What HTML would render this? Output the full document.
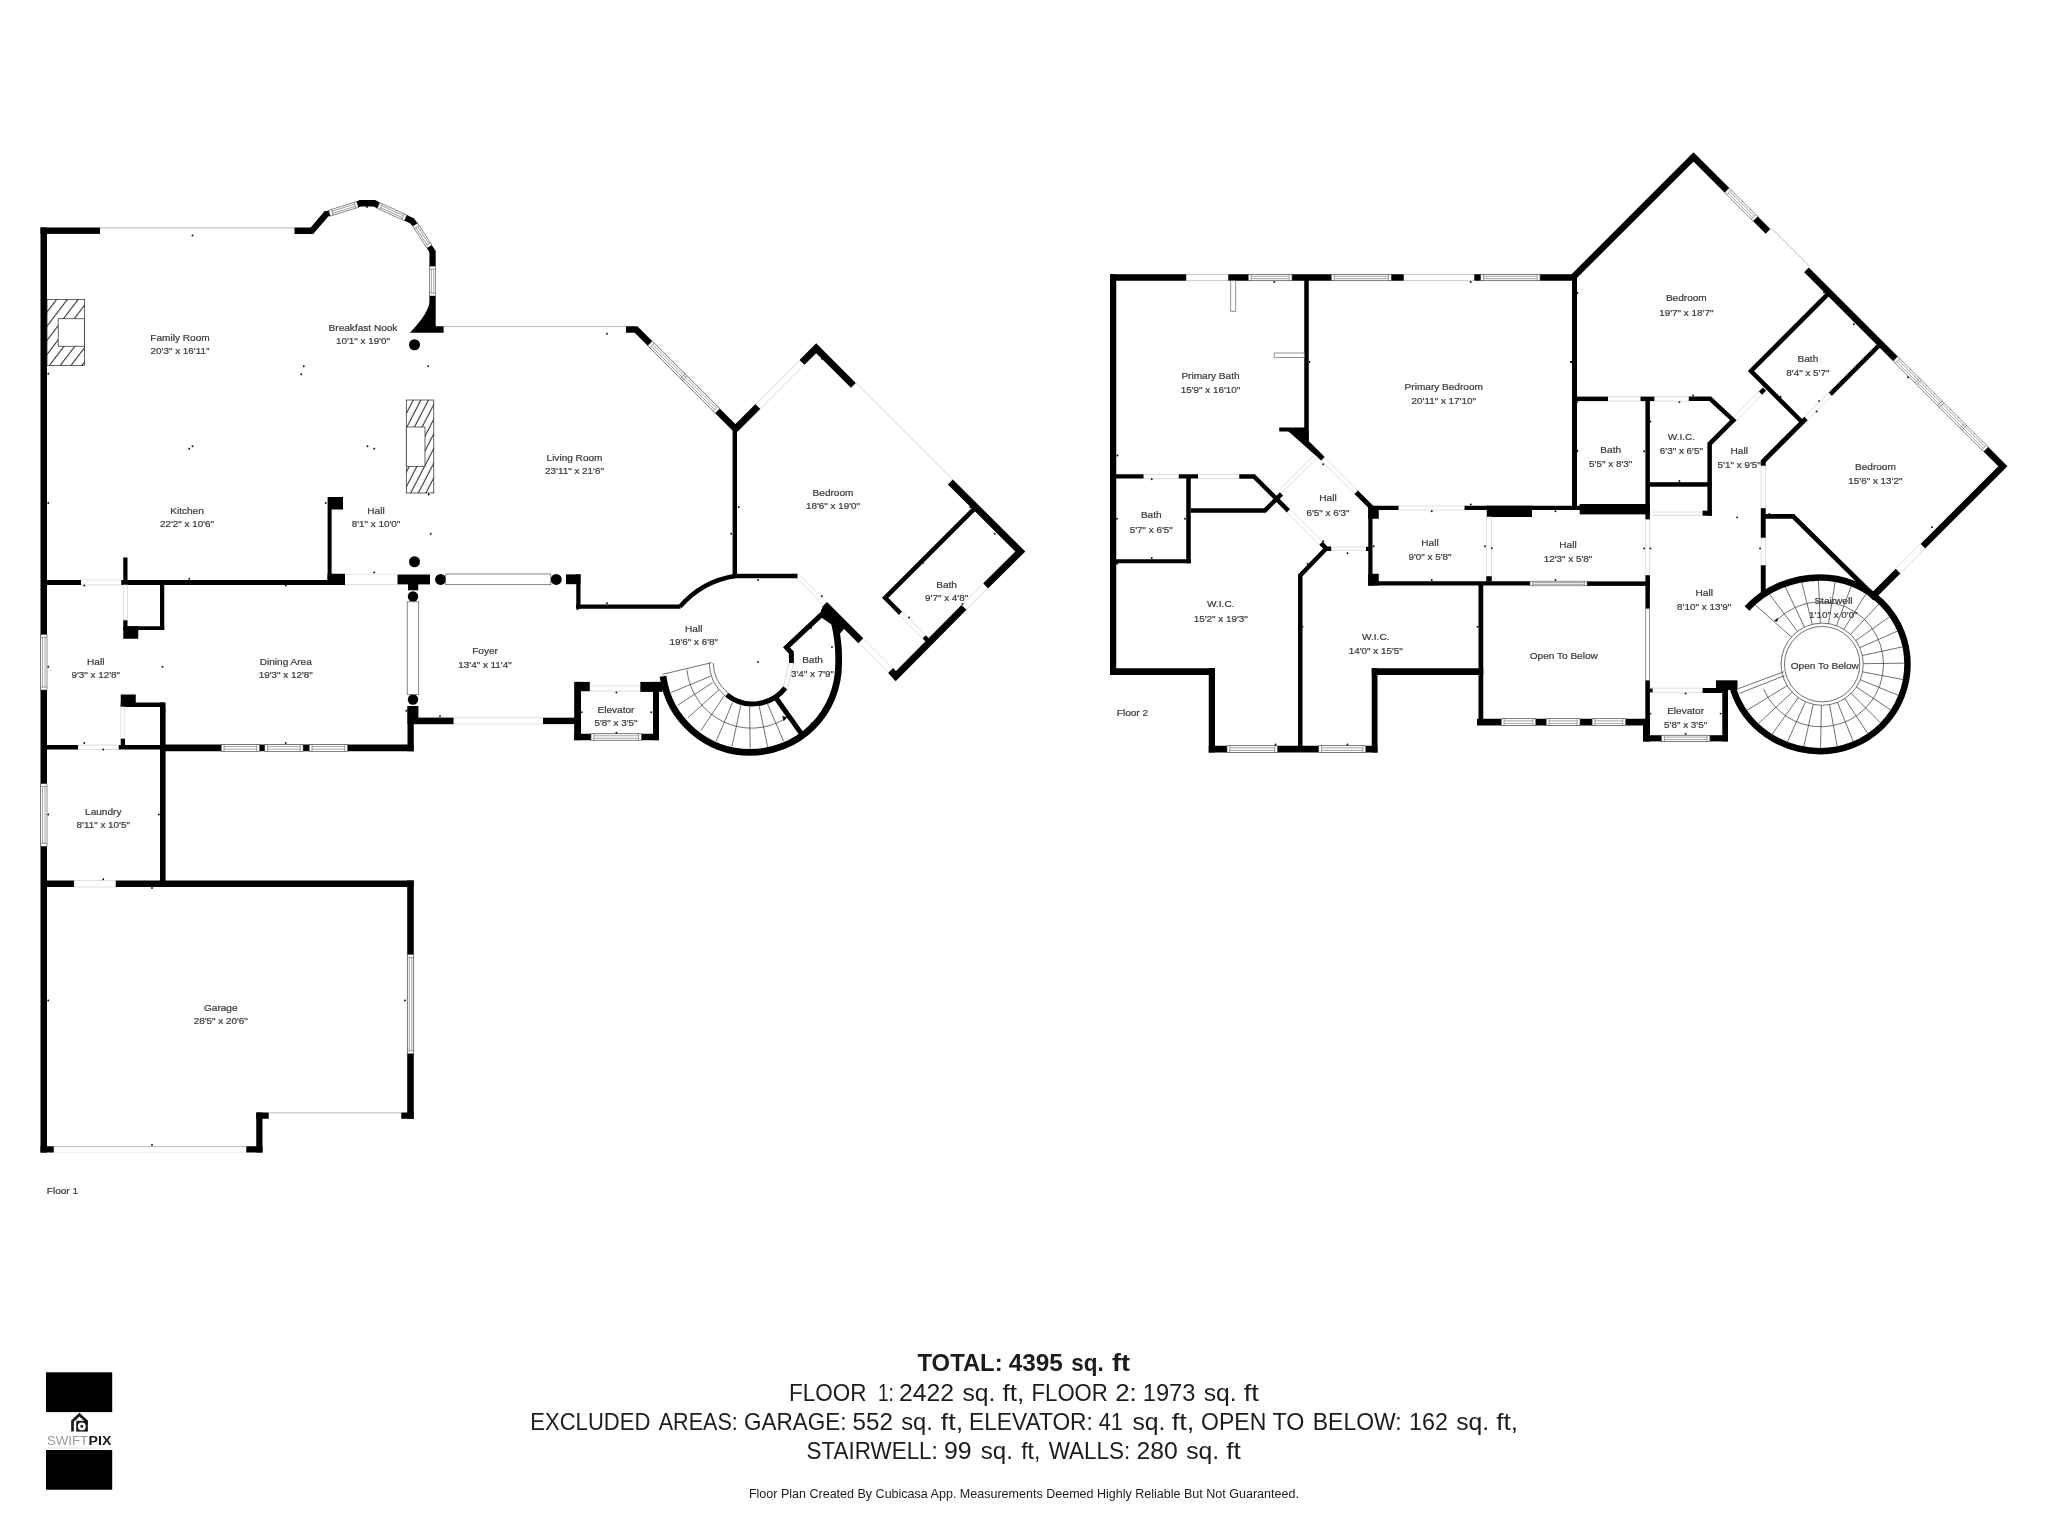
<!DOCTYPE html>
<html><head><meta charset="utf-8"><title>Floor Plan</title>
<style>
html,body{margin:0;padding:0;background:#fff;}
body{width:2048px;height:1536px;overflow:hidden;}
svg{display:block;filter:grayscale(1);}
.lab text{font-family:"Liberation Sans",sans-serif;font-size:9.6px;fill:#3c3c3c;stroke:#3a3a3a;stroke-width:0.22px;}
.bt text{font-family:"Liberation Sans",sans-serif;fill:#1c1c1c;}
.logo text{font-family:"Liberation Sans",sans-serif;}
</style></head><body>
<svg width="2048" height="1536" viewBox="0 0 2048 1536">
<defs><pattern id="hat" width="8.58" height="8.58" patternUnits="userSpaceOnUse" patternTransform="rotate(37.3)"><rect width="8.58" height="8.58" fill="#fff"/><line x1="3.37" y1="0" x2="3.37" y2="8.58" stroke="#2a2a2a" stroke-width="1.05"/></pattern>
<pattern id="hat2" width="6.75" height="6.75" patternUnits="userSpaceOnUse" patternTransform="rotate(27.4)"><rect width="6.75" height="6.75" fill="#fff"/><line x1="4.25" y1="0" x2="4.25" y2="6.75" stroke="#2a2a2a" stroke-width="1.05"/></pattern></defs>
<rect width="2048" height="1536" fill="#fff"/>
<g class="plan">
<rect x="40.5" y="227.5" width="6.5" height="925" fill="#000"/>
<g transform="translate(43.75,634.5) rotate(90)"><rect x="0" y="-3.25" width="55.5" height="6.5" fill="#fff" stroke="#4a4a4a" stroke-width="0.6"/><path d="M2.8,-3.25 V3.25 M52.7,-3.25 V3.25 M2.8,-1.24 H52.7 M2.8,1.24 H52.7" stroke="#4a4a4a" stroke-width="0.5" fill="none"/></g>
<g transform="translate(43.75,783.75) rotate(90)"><rect x="0" y="-3.25" width="62.5" height="6.5" fill="#fff" stroke="#4a4a4a" stroke-width="0.6"/><path d="M2.8,-3.25 V3.25 M59.7,-3.25 V3.25 M2.8,-1.24 H59.7 M2.8,1.24 H59.7" stroke="#4a4a4a" stroke-width="0.5" fill="none"/></g>
<rect x="40.5" y="227.5" width="59.5" height="6.4" fill="#000"/>
<line x1="100" y1="227.9" x2="294.5" y2="227.9" stroke="#b4b4b4" stroke-width="0.9"/>
<polygon points="294.5,227.6 310.7,227.6 324.4,211.3 328.8,210.5 330.3,215.9 328.3,216.6 313.2,233.9 294.5,233.9" fill="#000"/>
<g transform="translate(329.55,213.2) rotate(-17.32)"><rect x="0" y="-3" width="29.38" height="6" fill="#fff" stroke="#4a4a4a" stroke-width="0.6"/><path d="M2.8,-3 V3 M26.58,-3 V3 M2.8,-1.14 H26.58 M2.8,1.14 H26.58" stroke="#4a4a4a" stroke-width="0.5" fill="none"/></g>
<polygon points="356.6,201.5 359.6,200.1 375.2,200.1 379.6,202.5 377.6,208.6 373.7,206.6 361,206.6 358.6,207.4" fill="#000"/>
<g transform="translate(378.6,205.55) rotate(24.41)"><rect x="0" y="-3.1" width="29.76" height="6.2" fill="#fff" stroke="#4a4a4a" stroke-width="0.6"/><path d="M2.8,-3.1 V3.1 M26.96,-3.1 V3.1 M2.8,-1.18 H26.96 M2.8,1.18 H26.96" stroke="#4a4a4a" stroke-width="0.5" fill="none"/></g>
<polygon points="406.9,214.9 413.8,218.3 417.7,223.2 412.8,226.3 409.9,223.2 404.5,220.8" fill="#000"/>
<g transform="translate(415.25,224.75) rotate(57.13)"><rect x="0" y="-2.9" width="26.07" height="5.8" fill="#fff" stroke="#4a4a4a" stroke-width="0.6"/><path d="M2.8,-2.9 V2.9 M23.27,-2.9 V2.9 M2.8,-1.1 H23.27 M2.8,1.1 H23.27" stroke="#4a4a4a" stroke-width="0.5" fill="none"/></g>
<polygon points="431.8,245.2 435.7,251 435.7,266.2 429.4,266.2 429.4,252.5 427,248.1" fill="#000"/>
<g transform="translate(432.55,266.2) rotate(90)"><rect x="0" y="-3.15" width="29.8" height="6.3" fill="#fff" stroke="#4a4a4a" stroke-width="0.6"/><path d="M2.8,-3.15 V3.15 M27,-3.15 V3.15 M2.8,-1.2 H27 M2.8,1.2 H27" stroke="#4a4a4a" stroke-width="0.5" fill="none"/></g>
<path d="M435.7,296 L435.7,326.2 L443.6,326.2 L443.6,332.8 L409.9,332.8 Q423,319 426.5,311 Q429.4,306 429.4,302 L429.4,296 Z" fill="#000"/>
<line x1="443.6" y1="326.5" x2="626" y2="326.5" stroke="#b4b4b4" stroke-width="0.9"/>
<polyline points="626,329.4 636,329.4 735,428.4" fill="none" stroke="#000" stroke-width="6.5" stroke-linejoin="miter" stroke-linecap="butt" stroke-miterlimit="10"/>
<g transform="translate(650,343.4) rotate(45)"><rect x="0" y="-3.25" width="95.46" height="6.5" fill="#fff" stroke="#4a4a4a" stroke-width="0.6"/><path d="M2.8,-3.25 V3.25 M92.66,-3.25 V3.25 M2.8,-1.24 H92.66 M2.8,1.24 H92.66" stroke="#4a4a4a" stroke-width="0.5" fill="none"/><path d="M46.43,-3.25 V3.25 M49.03,-3.25 V3.25" stroke="#4a4a4a" stroke-width="0.5" fill="none"/></g>
<rect x="732.6" y="428" width="4.4" height="148" fill="#000"/>
<polyline points="735,429.4 758,406.4" fill="none" stroke="#000" stroke-width="7" stroke-linejoin="miter" stroke-linecap="butt" stroke-miterlimit="10"/>
<g transform="translate(758,406.4) rotate(-45)"><rect x="0" y="-3.25" width="62.23" height="6.5" fill="#fff"/><path d="M0,-3.25 H62.23 M0,3.25 H62.23" stroke="#d6d6d6" stroke-width="0.8" fill="none"/></g>
<polyline points="802,362.4 816.2,348.2 853.4,385.4" fill="none" stroke="#000" stroke-width="7" stroke-linejoin="miter" stroke-linecap="butt" stroke-miterlimit="10"/>
<line x1="855.3" y1="382.3" x2="952.6" y2="479.6" stroke="#c6c6c6" stroke-width="0.9"/>
<polyline points="950.3,481.9 1020.3,551.5 985.5,585.9" fill="none" stroke="#000" stroke-width="7" stroke-linejoin="miter" stroke-linecap="butt" stroke-miterlimit="10"/>
<g transform="translate(985.5,585.9) rotate(135)"><rect x="0" y="-3.25" width="30.41" height="6.5" fill="#fff"/><path d="M0,-3.25 H30.41 M0,3.25 H30.41" stroke="#d6d6d6" stroke-width="0.8" fill="none"/></g>
<polyline points="964,607.4 895.75,676.1 890.5,670.4" fill="none" stroke="#000" stroke-width="7" stroke-linejoin="miter" stroke-linecap="butt" stroke-miterlimit="10"/>
<g transform="translate(890.5,670.4) rotate(-135)"><rect x="0" y="-3.25" width="42" height="6.5" fill="#fff"/><path d="M0,-3.25 H42 M0,3.25 H42" stroke="#d6d6d6" stroke-width="0.8" fill="none"/></g>
<polyline points="860.8,640.8 824.5,604.5" fill="none" stroke="#000" stroke-width="7" stroke-linejoin="miter" stroke-linecap="butt" stroke-miterlimit="10"/>
<polyline points="975.7,507.3 885.15,597.85 900.6,613.3" fill="none" stroke="#000" stroke-width="4.5" stroke-linejoin="miter" stroke-linecap="butt" stroke-miterlimit="10"/>
<g transform="translate(900.6,613.3) rotate(45)"><rect x="0" y="-2.25" width="33.38" height="4.5" fill="#fff"/><path d="M0,-2.25 H33.38 M0,2.25 H33.38" stroke="#d6d6d6" stroke-width="0.8" fill="none"/></g>
<polyline points="924.2,636.9 929.4,642.1" fill="none" stroke="#000" stroke-width="4.5" stroke-linejoin="miter" stroke-linecap="butt" stroke-miterlimit="10"/>
<g transform="translate(797.5,576) rotate(45)"><rect x="0" y="-2.25" width="38.89" height="4.5" fill="#fff"/><path d="M0,-2.25 H38.89 M0,2.25 H38.89" stroke="#d6d6d6" stroke-width="0.8" fill="none"/></g>
<polygon points="821,610 826,603 844,629 838.8,635 832,625 821.5,617.5" fill="#000"/>
<path d="M663,676.2 A88.2 88.2 0 0 0 750.4,752.4 A88.2 88.2 0 0 0 838.6,664.2 Q839.4,644 834.6,623.5" fill="none" stroke="#000" stroke-width="6.7" stroke-linecap="butt"/>
<polyline points="822.8,613.4 786.5,647.4 791.3,652.5 791.5,663.2" fill="none" stroke="#000" stroke-width="5" stroke-linejoin="miter" stroke-linecap="butt" stroke-miterlimit="10"/>
<g transform="translate(791.3,663.2) rotate(103.43)"><rect x="0" y="-2.25" width="25.39" height="4.5" fill="#fff"/><path d="M0,-2.25 H25.39 M0,2.25 H25.39" stroke="#d6d6d6" stroke-width="0.8" fill="none"/></g>
<path d="M785.3,687.9 A41.25 41.25 0 0 1 726.7,694.7" fill="none" stroke="#000" stroke-width="5" stroke-linecap="butt"/>
<polyline points="775.9,697.8 801.7,734.1" fill="none" stroke="#000" stroke-width="5" stroke-linejoin="miter" stroke-linecap="butt" stroke-miterlimit="10"/>
<path d="M728.09,692.9 A39.3 39.3 0 0 1 713.21,662.79" fill="none" stroke="#333" stroke-width="0.7" stroke-linecap="butt"/>
<path d="M725.6,696.03 A43.3 43.3 0 0 1 709.21,662.86" fill="none" stroke="#333" stroke-width="0.7" stroke-linecap="butt"/>
<line x1="711.5" y1="662.7" x2="662.3" y2="674.4" stroke="#333" stroke-width="0.7"/>
<line x1="710.9" y1="676.1" x2="671.1" y2="692.5" stroke="#333" stroke-width="0.7"/>
<line x1="712.7" y1="682.6" x2="677.5" y2="705.4" stroke="#333" stroke-width="0.7"/>
<line x1="719.1" y1="689.6" x2="688" y2="717.7" stroke="#333" stroke-width="0.7"/>
<line x1="724.4" y1="695.5" x2="700.9" y2="730.6" stroke="#333" stroke-width="0.7"/>
<line x1="732.6" y1="702.5" x2="716.2" y2="741.2" stroke="#333" stroke-width="0.7"/>
<line x1="740.8" y1="705.4" x2="732" y2="746.5" stroke="#333" stroke-width="0.7"/>
<line x1="749.6" y1="706" x2="750.2" y2="749.4" stroke="#333" stroke-width="0.7"/>
<line x1="759" y1="705.4" x2="767.7" y2="747" stroke="#333" stroke-width="0.7"/>
<line x1="767.2" y1="703.1" x2="783.6" y2="741.2" stroke="#333" stroke-width="0.7"/>
<path d="M686.9,669.7 A65 65 0 0 0 785.5,718.6" fill="none" stroke="#333" stroke-width="0.7" stroke-linecap="butt"/>
<polygon points="782.3,715.8 787.3,717.4 783.6,721.2" fill="#111"/>
<path d="M680,606.6 A92 92 0 0 1 735,576" fill="none" stroke="#000" stroke-width="4.5" stroke-linecap="butt"/>
<rect x="732.6" y="573.75" width="64.9" height="4.5" fill="#000"/>
<rect x="566" y="574.4" width="14.5" height="9.8" fill="#000"/>
<rect x="576.25" y="574.4" width="4.25" height="34.35" fill="#000"/>
<rect x="576.25" y="604.5" width="104.25" height="4.25" fill="#000"/>
<circle cx="414.5" cy="344.75" r="5.5" fill="#000"/>
<circle cx="414.5" cy="561.75" r="5.5" fill="#000"/>
<circle cx="440.6" cy="579.4" r="5.5" fill="#000"/>
<circle cx="556.25" cy="579.4" r="5.5" fill="#000"/>
<circle cx="413" cy="596.5" r="5.2" fill="#000"/>
<circle cx="413" cy="699.5" r="5.2" fill="#000"/>
<rect x="397.5" y="574.5" width="32.5" height="9.9" fill="#000"/>
<rect x="408" y="584" width="10.2" height="6.3" fill="#000"/>
<rect x="445.7" y="574" width="105.1" height="10.7" fill="#fff" stroke="#555" stroke-width="0.7"/>
<rect x="407.2" y="601.8" width="11.5" height="92.7" fill="#fff" stroke="#555" stroke-width="0.7"/>
<rect x="47" y="299.5" width="37.5" height="66" fill="url(#hat)" stroke="#222" stroke-width="0.7"/>
<rect x="58.2" y="318.75" width="26.3" height="27.5" fill="#fff" stroke="#222" stroke-width="0.7"/>
<rect x="406.3" y="400" width="27.5" height="93" fill="url(#hat2)" stroke="#222" stroke-width="0.7"/>
<rect x="406.3" y="427" width="18.7" height="39.3" fill="#fff" stroke="#222" stroke-width="0.7"/>
<rect x="47" y="580" width="34.25" height="5" fill="#000"/>
<g transform="translate(81.25,582.5) rotate(0)"><rect x="0" y="-2.5" width="40" height="5" fill="#fff"/><path d="M0,-2.5 H40 M0,2.5 H40" stroke="#d6d6d6" stroke-width="0.8" fill="none"/></g>
<rect x="121.25" y="580" width="223.75" height="5" fill="#000"/>
<rect x="327.5" y="573.75" width="17.5" height="11.25" fill="#000"/>
<rect x="327.6" y="497" width="4" height="83" fill="#000"/>
<rect x="328" y="497" width="15" height="12.5" fill="#000"/>
<rect x="123.25" y="557.5" width="4.25" height="27.5" fill="#000"/>
<line x1="345" y1="584.6" x2="397.5" y2="584.6" stroke="#d6d6d6" stroke-width="0.9"/>
<line x1="345" y1="574.6" x2="397.5" y2="574.6" stroke="#e4e4e4" stroke-width="0.8"/>
<rect x="160" y="585" width="4.25" height="45" fill="#000"/>
<rect x="123.25" y="626.25" width="41" height="3.75" fill="#000"/>
<rect x="123.25" y="626.25" width="15" height="12.5" fill="#000"/>
<rect x="123.25" y="620" width="4.25" height="6.25" fill="#000"/>
<rect x="123.4" y="585" width="4" height="35" fill="#fff" stroke="#d6d6d6" stroke-width="0.7"/>
<rect x="120.75" y="694.5" width="15" height="12.5" fill="#000"/>
<rect x="120.75" y="702.5" width="43.5" height="4.5" fill="#000"/>
<rect x="160" y="702.5" width="5.6" height="183.5" fill="#000"/>
<rect x="120.9" y="707" width="4" height="31.75" fill="#fff" stroke="#d6d6d6" stroke-width="0.7"/>
<rect x="120.75" y="738.75" width="4.25" height="10.25" fill="#000"/>
<rect x="47" y="745" width="31.25" height="4.5" fill="#000"/>
<g transform="translate(78.25,747.25) rotate(0)"><rect x="0" y="-2.25" width="40.5" height="4.5" fill="#fff"/><path d="M0,-2.25 H40.5 M0,2.25 H40.5" stroke="#d6d6d6" stroke-width="0.8" fill="none"/></g>
<rect x="118.75" y="745" width="45.25" height="4.5" fill="#000"/>
<rect x="164" y="744.5" width="249.75" height="6.75" fill="#000"/>
<g transform="translate(221.2,747.9) rotate(0)"><rect x="0" y="-3.38" width="38.4" height="6.75" fill="#fff" stroke="#4a4a4a" stroke-width="0.6"/><path d="M2.8,-3.38 V3.38 M35.6,-3.38 V3.38 M2.8,-1.28 H35.6 M2.8,1.28 H35.6" stroke="#4a4a4a" stroke-width="0.5" fill="none"/></g>
<g transform="translate(264.8,747.9) rotate(0)"><rect x="0" y="-3.38" width="38.3" height="6.75" fill="#fff" stroke="#4a4a4a" stroke-width="0.6"/><path d="M2.8,-3.38 V3.38 M35.5,-3.38 V3.38 M2.8,-1.28 H35.5 M2.8,1.28 H35.5" stroke="#4a4a4a" stroke-width="0.5" fill="none"/></g>
<g transform="translate(309.2,747.9) rotate(0)"><rect x="0" y="-3.38" width="38.4" height="6.75" fill="#fff" stroke="#4a4a4a" stroke-width="0.6"/><path d="M2.8,-3.38 V3.38 M35.6,-3.38 V3.38 M2.8,-1.28 H35.6 M2.8,1.28 H35.6" stroke="#4a4a4a" stroke-width="0.5" fill="none"/></g>
<rect x="407.5" y="706.25" width="6.25" height="45" fill="#000"/>
<rect x="407.5" y="706" width="10.9" height="18" fill="#000"/>
<rect x="413.75" y="717.6" width="40" height="6.6" fill="#000"/>
<g transform="translate(453.75,720.9) rotate(0)"><rect x="0" y="-3.2" width="89.25" height="6.4" fill="#fff"/><path d="M0,-3.2 H89.25 M0,3.2 H89.25" stroke="#d6d6d6" stroke-width="0.8" fill="none"/></g>
<rect x="543" y="717.7" width="33.5" height="6.4" fill="#000"/>
<rect x="574.2" y="681.9" width="6.8" height="58.3" fill="#000"/>
<rect x="574.2" y="733.75" width="84.8" height="6.45" fill="#000"/>
<rect x="653" y="681.9" width="6" height="58.3" fill="#000"/>
<rect x="576.5" y="681.9" width="13.3" height="9.35" fill="#000"/>
<rect x="640.3" y="681.9" width="22.2" height="10" fill="#000"/>
<line x1="589.8" y1="685.9" x2="640.3" y2="685.9" stroke="#d6d6d6" stroke-width="0.8"/>
<line x1="589.8" y1="691" x2="640.3" y2="691" stroke="#d6d6d6" stroke-width="0.8"/>
<g transform="translate(591,737) rotate(0)"><rect x="0" y="-3.2" width="50.4" height="6.4" fill="#fff" stroke="#4a4a4a" stroke-width="0.6"/><path d="M2.8,-3.2 V3.2 M47.6,-3.2 V3.2 M2.8,-1.22 H47.6 M2.8,1.22 H47.6" stroke="#4a4a4a" stroke-width="0.5" fill="none"/></g>
<rect x="47" y="880.5" width="27.25" height="6.5" fill="#000"/>
<g transform="translate(74.25,883.75) rotate(0)"><rect x="0" y="-3.25" width="41.5" height="6.5" fill="#fff"/><path d="M0,-3.25 H41.5 M0,3.25 H41.5" stroke="#d6d6d6" stroke-width="0.8" fill="none"/></g>
<rect x="115.75" y="880.5" width="298" height="6.5" fill="#000"/>
<rect x="407.2" y="880.5" width="6.55" height="238.25" fill="#000"/>
<g transform="translate(410.5,954.5) rotate(90)"><rect x="0" y="-3.25" width="99.25" height="6.5" fill="#fff" stroke="#4a4a4a" stroke-width="0.6"/><path d="M2.8,-3.25 V3.25 M96.45,-3.25 V3.25 M2.8,-1.24 H96.45 M2.8,1.24 H96.45" stroke="#4a4a4a" stroke-width="0.5" fill="none"/></g>
<rect x="401.25" y="1112.5" width="12.5" height="6.25" fill="#000"/>
<line x1="268.75" y1="1112.9" x2="401.25" y2="1112.9" stroke="#b4b4b4" stroke-width="0.9"/>
<rect x="256.25" y="1112.5" width="12.5" height="6.25" fill="#000"/>
<rect x="256.25" y="1112.5" width="6.25" height="40" fill="#000"/>
<rect x="246.25" y="1146.25" width="16.25" height="6.25" fill="#000"/>
<line x1="53.75" y1="1146.6" x2="246.25" y2="1146.6" stroke="#b4b4b4" stroke-width="0.9"/>
<line x1="53.75" y1="1152.2" x2="246.25" y2="1152.2" stroke="#e4e4e4" stroke-width="0.8"/>
<rect x="40.5" y="1146.25" width="13.25" height="6.25" fill="#000"/>
<rect x="1110" y="274.25" width="6.25" height="400.75" fill="#000"/>
<rect x="1110" y="274.25" width="464" height="6.5" fill="#000"/>
<g transform="translate(1186.25,277.5) rotate(0)"><rect x="0" y="-3.25" width="42" height="6.5" fill="#fff"/><path d="M0,-3.25 H42 M0,3.25 H42" stroke="#d6d6d6" stroke-width="0.8" fill="none"/></g>
<g transform="translate(1248.25,277.5) rotate(0)"><rect x="0" y="-3.25" width="43.75" height="6.5" fill="#fff" stroke="#4a4a4a" stroke-width="0.6"/><path d="M2.8,-3.25 V3.25 M40.95,-3.25 V3.25 M2.8,-1.24 H40.95 M2.8,1.24 H40.95" stroke="#4a4a4a" stroke-width="0.5" fill="none"/></g>
<g transform="translate(1331.25,277.5) rotate(0)"><rect x="0" y="-3.25" width="60" height="6.5" fill="#fff" stroke="#4a4a4a" stroke-width="0.6"/><path d="M2.8,-3.25 V3.25 M57.2,-3.25 V3.25 M2.8,-1.24 H57.2 M2.8,1.24 H57.2" stroke="#4a4a4a" stroke-width="0.5" fill="none"/></g>
<g transform="translate(1403.75,277.5) rotate(0)"><rect x="0" y="-3.25" width="70.5" height="6.5" fill="#fff"/><path d="M0,-3.25 H70.5 M0,3.25 H70.5" stroke="#d6d6d6" stroke-width="0.8" fill="none"/></g>
<g transform="translate(1480.75,277.5) rotate(0)"><rect x="0" y="-3.25" width="59.25" height="6.5" fill="#fff" stroke="#4a4a4a" stroke-width="0.6"/><path d="M2.8,-3.25 V3.25 M56.45,-3.25 V3.25 M2.8,-1.24 H56.45 M2.8,1.24 H56.45" stroke="#4a4a4a" stroke-width="0.5" fill="none"/></g>
<polyline points="1572.6,277.8 1693.5,156.9 1727,190.4" fill="none" stroke="#000" stroke-width="6.5" stroke-linejoin="miter" stroke-linecap="butt" stroke-miterlimit="10"/>
<g transform="translate(1727,190.4) rotate(45)"><rect x="0" y="-3.25" width="40.31" height="6.5" fill="#fff" stroke="#4a4a4a" stroke-width="0.6"/><path d="M2.8,-3.25 V3.25 M37.51,-3.25 V3.25 M2.8,-1.24 H37.51 M2.8,1.24 H37.51" stroke="#4a4a4a" stroke-width="0.5" fill="none"/></g>
<polyline points="1755.5,218.9 1768,231.4" fill="none" stroke="#000" stroke-width="6.5" stroke-linejoin="miter" stroke-linecap="butt" stroke-miterlimit="10"/>
<line x1="1771.4" y1="228.2" x2="1809.8" y2="266.6" stroke="#b4b4b4" stroke-width="0.9"/>
<polyline points="1806.5,269.9 1895.5,358.9" fill="none" stroke="#000" stroke-width="6.5" stroke-linejoin="miter" stroke-linecap="butt" stroke-miterlimit="10"/>
<g transform="translate(1895.5,358.9) rotate(45)"><rect x="0" y="-3.25" width="127.99" height="6.5" fill="#fff" stroke="#4a4a4a" stroke-width="0.6"/><path d="M2.8,-3.25 V3.25 M125.19,-3.25 V3.25 M2.8,-1.24 H125.19 M2.8,1.24 H125.19" stroke="#4a4a4a" stroke-width="0.5" fill="none"/><path d="M30.7,-3.25 V3.25 M33.3,-3.25 V3.25" stroke="#4a4a4a" stroke-width="0.5" fill="none"/><path d="M62.69,-3.25 V3.25 M65.29,-3.25 V3.25" stroke="#4a4a4a" stroke-width="0.5" fill="none"/><path d="M94.69,-3.25 V3.25 M97.29,-3.25 V3.25" stroke="#4a4a4a" stroke-width="0.5" fill="none"/></g>
<polyline points="1986,449.4 2002.85,466.25 1922.8,546.3" fill="none" stroke="#000" stroke-width="6.5" stroke-linejoin="miter" stroke-linecap="butt" stroke-miterlimit="10"/>
<g transform="translate(1922.8,546.3) rotate(135)"><rect x="0" y="-3.25" width="35.07" height="6.5" fill="#fff"/><path d="M0,-3.25 H35.07 M0,3.25 H35.07" stroke="#d6d6d6" stroke-width="0.8" fill="none"/></g>
<polyline points="1898,571.1 1871,598.1" fill="none" stroke="#000" stroke-width="6.5" stroke-linejoin="miter" stroke-linecap="butt" stroke-miterlimit="10"/>
<polyline points="1829.3,292.7 1751,371 1802.25,422.25" fill="none" stroke="#000" stroke-width="4.5" stroke-linejoin="miter" stroke-linecap="butt" stroke-miterlimit="10"/>
<polyline points="1880.55,343.95 1830.2,394.3" fill="none" stroke="#000" stroke-width="4.5" stroke-linejoin="miter" stroke-linecap="butt" stroke-miterlimit="10"/>
<g transform="translate(1830.2,394.3) rotate(135)"><rect x="0" y="-2.25" width="34.22" height="4.5" fill="#fff"/><path d="M0,-2.25 H34.22 M0,2.25 H34.22" stroke="#d6d6d6" stroke-width="0.8" fill="none"/></g>
<polyline points="1806,418.5 1802.25,422.25 1763.3,461.2" fill="none" stroke="#000" stroke-width="4.8" stroke-linejoin="miter" stroke-linecap="butt" stroke-miterlimit="10"/>
<rect x="1760.8" y="459.8" width="4.9" height="6.2" fill="#000"/>
<rect x="1761" y="466" width="4.5" height="42.2" fill="#fff" stroke="#d6d6d6" stroke-width="0.7"/>
<rect x="1760.8" y="508.2" width="4.9" height="29.8" fill="#000"/>
<rect x="1761" y="538" width="4.5" height="27.3" fill="#fff" stroke="#d6d6d6" stroke-width="0.7"/>
<rect x="1760.8" y="565.3" width="4.9" height="30.7" fill="#000"/>
<polyline points="1763,516.3 1793.2,516.3 1872.4,594.5" fill="none" stroke="#000" stroke-width="4.8" stroke-linejoin="miter" stroke-linecap="butt" stroke-miterlimit="10"/>
<g transform="translate(1733.5,420.2) rotate(-45)"><rect x="0" y="-2.25" width="40.59" height="4.5" fill="#fff"/><path d="M0,-2.25 H40.59 M0,2.25 H40.59" stroke="#d6d6d6" stroke-width="0.8" fill="none"/></g>
<polyline points="1760.5,393.2 1764.5,389.2" fill="none" stroke="#000" stroke-width="4.5" stroke-linejoin="miter" stroke-linecap="butt" stroke-miterlimit="10"/>
<rect x="1572" y="275" width="5" height="235" fill="#000"/>
<rect x="1577" y="396.6" width="31.2" height="4.5" fill="#000"/>
<g transform="translate(1608.2,398.85) rotate(0)"><rect x="0" y="-2.25" width="32.3" height="4.5" fill="#fff"/><path d="M0,-2.25 H32.3 M0,2.25 H32.3" stroke="#d6d6d6" stroke-width="0.8" fill="none"/></g>
<rect x="1640.5" y="396.6" width="14.1" height="4.5" fill="#000"/>
<g transform="translate(1654.6,398.85) rotate(0)"><rect x="0" y="-2.25" width="34.2" height="4.5" fill="#fff"/><path d="M0,-2.25 H34.2 M0,2.25 H34.2" stroke="#d6d6d6" stroke-width="0.8" fill="none"/></g>
<polyline points="1688.8,398.85 1710.2,398.85 1733.3,420.2 1709.65,443.8 1709.65,515.7" fill="none" stroke="#000" stroke-width="4.5" stroke-linejoin="miter" stroke-linecap="butt" stroke-miterlimit="10"/>
<rect x="1645.4" y="401" width="4.5" height="118.4" fill="#000"/>
<rect x="1649.9" y="482.2" width="62" height="4.5" fill="#000"/>
<rect x="1579.7" y="504" width="70.2" height="10.4" fill="#000"/>
<rect x="1572" y="505.75" width="10" height="4.25" fill="#000"/>
<rect x="1702.5" y="510.7" width="9.4" height="5" fill="#000"/>
<line x1="1652.9" y1="512" x2="1702.5" y2="512" stroke="#d6d6d6" stroke-width="0.8"/>
<line x1="1652.9" y1="515.3" x2="1702.5" y2="515.3" stroke="#d6d6d6" stroke-width="0.8"/>
<rect x="1304.25" y="280" width="4.5" height="162.5" fill="#000"/>
<rect x="1230.75" y="280.75" width="5" height="30.5" fill="#fff" stroke="#666" stroke-width="0.7"/>
<rect x="1274.25" y="353" width="30" height="4.5" fill="#fff" stroke="#666" stroke-width="0.7"/>
<rect x="1279.25" y="427.5" width="26.75" height="4" fill="#000"/>
<polygon points="1288,431 1308.75,431 1308.75,441 1325.2,457.4 1321.7,460.9" fill="#000"/>
<g transform="translate(1322.8,458.8) rotate(45)"><rect x="0" y="-2.25" width="49.5" height="4.5" fill="#fff"/><path d="M0,-2.25 H49.5 M0,2.25 H49.5" stroke="#d6d6d6" stroke-width="0.8" fill="none"/></g>
<polyline points="1356.2,492.2 1372,508" fill="none" stroke="#000" stroke-width="4.8" stroke-linejoin="miter" stroke-linecap="butt" stroke-miterlimit="10"/>
<rect x="1368.25" y="505.75" width="30.5" height="4.25" fill="#000"/>
<g transform="translate(1398.75,507.9) rotate(0)"><rect x="0" y="-2.1" width="65.75" height="4.2" fill="#fff"/><path d="M0,-2.1 H65.75 M0,2.1 H65.75" stroke="#d6d6d6" stroke-width="0.8" fill="none"/></g>
<rect x="1464.5" y="505.75" width="112.5" height="4.25" fill="#000"/>
<rect x="1486.75" y="505.75" width="45.25" height="11.25" fill="#000"/>
<rect x="1368.25" y="505" width="4.25" height="80.5" fill="#000"/>
<rect x="1368.25" y="510" width="10.5" height="8.75" fill="#000"/>
<rect x="1368.25" y="573.75" width="10.5" height="11.75" fill="#000"/>
<rect x="1368.25" y="581.25" width="161.75" height="4.25" fill="#000"/>
<g transform="translate(1530,583.5) rotate(0)"><rect x="0" y="-2.3" width="57.1" height="4.6" fill="#fff" stroke="#4a4a4a" stroke-width="0.6"/><path d="M2.8,-2.3 V2.3 M54.3,-2.3 V2.3 M2.8,-0.87 H54.3 M2.8,0.87 H54.3" stroke="#4a4a4a" stroke-width="0.5" fill="none"/></g>
<rect x="1587.1" y="581.4" width="62.8" height="4.5" fill="#000"/>
<rect x="1486.4" y="517" width="5.2" height="59.25" fill="#fff" stroke="#d6d6d6" stroke-width="0.7"/>
<rect x="1486.25" y="576.25" width="5.5" height="5.25" fill="#000"/>
<rect x="1478.5" y="585" width="4.75" height="140" fill="#000"/>
<rect x="1116" y="474.25" width="27.75" height="4.25" fill="#000"/>
<g transform="translate(1143.75,476.4) rotate(0)"><rect x="0" y="-2.15" width="35" height="4.3" fill="#fff"/><path d="M0,-2.15 H35 M0,2.15 H35" stroke="#d6d6d6" stroke-width="0.8" fill="none"/></g>
<rect x="1178.75" y="474.25" width="19.25" height="4.25" fill="#000"/>
<g transform="translate(1198,476.4) rotate(0)"><rect x="0" y="-2.15" width="41.25" height="4.3" fill="#fff"/><path d="M0,-2.15 H41.25 M0,2.15 H41.25" stroke="#d6d6d6" stroke-width="0.8" fill="none"/></g>
<polyline points="1239.25,476.4 1254,476.4 1288.5,510.9" fill="none" stroke="#000" stroke-width="4.5" stroke-linejoin="miter" stroke-linecap="butt" stroke-miterlimit="10"/>
<rect x="1186.25" y="478" width="4.5" height="85.25" fill="#000"/>
<rect x="1116" y="559.25" width="74.75" height="4" fill="#000"/>
<polyline points="1190.75,510.4 1265,510.4 1281.5,493.9" fill="none" stroke="#000" stroke-width="4.5" stroke-linejoin="miter" stroke-linecap="butt" stroke-miterlimit="10"/>
<g transform="translate(1288.5,510.9) rotate(45)"><rect x="0" y="-2" width="48.79" height="4" fill="#fff"/><path d="M0,-2 H48.79 M0,2 H48.79" stroke="#d6d6d6" stroke-width="0.8" fill="none"/></g>
<g transform="translate(1281.3,490.8) rotate(-45)"><rect x="0" y="-2" width="49.07" height="4" fill="#fff"/><path d="M0,-2 H49.07 M0,2 H49.07" stroke="#dcdcdc" stroke-width="0.8" fill="none"/></g>
<polyline points="1321,543.2 1326.5,548.75 1331.25,548.75" fill="none" stroke="#000" stroke-width="4.5" stroke-linejoin="miter" stroke-linecap="butt" stroke-miterlimit="10"/>
<line x1="1331.25" y1="547.3" x2="1366.25" y2="547.3" stroke="#d6d6d6" stroke-width="0.8"/>
<line x1="1331.25" y1="550.3" x2="1366.25" y2="550.3" stroke="#d6d6d6" stroke-width="0.8"/>
<rect x="1366" y="546.8" width="2.75" height="4.2" fill="#000"/>
<polyline points="1325.5,549.2 1300.25,575.5 1300.25,752" fill="none" stroke="#000" stroke-width="4.5" stroke-linejoin="miter" stroke-linecap="butt" stroke-miterlimit="10"/>
<rect x="1110" y="668.25" width="105" height="6.75" fill="#000"/>
<rect x="1208.75" y="668.25" width="6.25" height="84.25" fill="#000"/>
<rect x="1208.75" y="745.75" width="168.75" height="6.75" fill="#000"/>
<g transform="translate(1227,749.1) rotate(0)"><rect x="0" y="-3.38" width="50.5" height="6.75" fill="#fff" stroke="#4a4a4a" stroke-width="0.6"/><path d="M2.8,-3.38 V3.38 M47.7,-3.38 V3.38 M2.8,-1.28 H47.7 M2.8,1.28 H47.7" stroke="#4a4a4a" stroke-width="0.5" fill="none"/></g>
<g transform="translate(1318.75,749.1) rotate(0)"><rect x="0" y="-3.38" width="47" height="6.75" fill="#fff" stroke="#4a4a4a" stroke-width="0.6"/><path d="M2.8,-3.38 V3.38 M44.2,-3.38 V3.38 M2.8,-1.28 H44.2 M2.8,1.28 H44.2" stroke="#4a4a4a" stroke-width="0.5" fill="none"/></g>
<rect x="1371.75" y="668.25" width="5.75" height="84.25" fill="#000"/>
<rect x="1371.75" y="668.25" width="111.5" height="6.75" fill="#000"/>
<rect x="1477" y="718.75" width="169" height="6.75" fill="#000"/>
<g transform="translate(1501.25,722.1) rotate(0)"><rect x="0" y="-3.38" width="34.5" height="6.75" fill="#fff" stroke="#4a4a4a" stroke-width="0.6"/><path d="M2.8,-3.38 V3.38 M31.7,-3.38 V3.38 M2.8,-1.28 H31.7 M2.8,1.28 H31.7" stroke="#4a4a4a" stroke-width="0.5" fill="none"/></g>
<g transform="translate(1546.25,722.1) rotate(0)"><rect x="0" y="-3.38" width="33.75" height="6.75" fill="#fff" stroke="#4a4a4a" stroke-width="0.6"/><path d="M2.8,-3.38 V3.38 M30.95,-3.38 V3.38 M2.8,-1.28 H30.95 M2.8,1.28 H30.95" stroke="#4a4a4a" stroke-width="0.5" fill="none"/></g>
<g transform="translate(1592.1,722.1) rotate(0)"><rect x="0" y="-3.38" width="33.5" height="6.75" fill="#fff" stroke="#4a4a4a" stroke-width="0.6"/><path d="M2.8,-3.38 V3.38 M30.7,-3.38 V3.38 M2.8,-1.28 H30.7 M2.8,1.28 H30.7" stroke="#4a4a4a" stroke-width="0.5" fill="none"/></g>
<line x1="1645.6" y1="519.4" x2="1645.6" y2="575.2" stroke="#d6d6d6" stroke-width="0.8"/>
<line x1="1649.7" y1="519.4" x2="1649.7" y2="575.2" stroke="#d6d6d6" stroke-width="0.8"/>
<rect x="1645.4" y="575.2" width="4.5" height="33.5" fill="#000"/>
<rect x="1645.7" y="608.7" width="3.9" height="71.9" fill="#fff" stroke="#666" stroke-width="0.7"/>
<rect x="1645.3" y="680.6" width="4.6" height="60.8" fill="#000"/>
<rect x="1643" y="718.9" width="6.9" height="22.5" fill="#000"/>
<rect x="1649.7" y="688.2" width="2.9" height="4.4" fill="#000"/>
<rect x="1643" y="735.2" width="85" height="6.2" fill="#000"/>
<rect x="1722.3" y="688" width="5.7" height="53.4" fill="#000"/>
<rect x="1702.5" y="688" width="25.5" height="5" fill="#000"/>
<rect x="1716" y="680.3" width="21.5" height="9.8" fill="#000"/>
<line x1="1649.9" y1="688.2" x2="1702.5" y2="688.2" stroke="#d6d6d6" stroke-width="0.8"/>
<line x1="1649.9" y1="692.8" x2="1702.5" y2="692.8" stroke="#d6d6d6" stroke-width="0.8"/>
<g transform="translate(1661.5,738.3) rotate(0)"><rect x="0" y="-3.1" width="48.4" height="6.2" fill="#fff" stroke="#4a4a4a" stroke-width="0.6"/><path d="M2.8,-3.1 V3.1 M45.6,-3.1 V3.1 M2.8,-1.18 H45.6 M2.8,1.18 H45.6" stroke="#4a4a4a" stroke-width="0.5" fill="none"/></g>
<path d="M1746.95,608.56 A96 86.9 0 0 1 1820.6,577.4 A86.9 86.9 0 0 1 1907.5,664.3 A86.9 86.9 0 0 1 1820.6,751.2 A91.2 86.9 0 0 1 1733.3,689.5" fill="none" stroke="#000" stroke-width="6.5" stroke-linecap="butt"/>
<circle cx="1822.2" cy="664.2" r="37.7" fill="none" stroke="#333" stroke-width="0.7"/>
<circle cx="1822.2" cy="664.2" r="41.1" fill="none" stroke="#333" stroke-width="0.7"/>
<path d="M1777.58,619.34 A62.5 62.5 0 0 1 1879.73,685.68 A62.5 62.5 0 0 1 1763.47,688.72" fill="none" stroke="#333" stroke-width="0.7" stroke-linecap="butt"/>
<line x1="1791.42" y1="636.97" x2="1754.88" y2="604.64" stroke="#333" stroke-width="0.7"/>
<line x1="1797.45" y1="631.38" x2="1769.31" y2="594.06" stroke="#333" stroke-width="0.7"/>
<line x1="1804.48" y1="627.12" x2="1785.09" y2="586.53" stroke="#333" stroke-width="0.7"/>
<line x1="1812.22" y1="624.33" x2="1801.61" y2="581.96" stroke="#333" stroke-width="0.7"/>
<line x1="1820.35" y1="623.14" x2="1818.42" y2="580.22" stroke="#333" stroke-width="0.7"/>
<line x1="1828.56" y1="623.6" x2="1835.16" y2="581.47" stroke="#333" stroke-width="0.7"/>
<line x1="1836.52" y1="625.67" x2="1851.26" y2="585.99" stroke="#333" stroke-width="0.7"/>
<line x1="1843.9" y1="629.29" x2="1866.1" y2="593.57" stroke="#333" stroke-width="0.7"/>
<line x1="1850.41" y1="634.31" x2="1879.12" y2="603.9" stroke="#333" stroke-width="0.7"/>
<line x1="1855.8" y1="640.52" x2="1889.83" y2="616.54" stroke="#333" stroke-width="0.7"/>
<line x1="1859.84" y1="647.68" x2="1897.83" y2="631.01" stroke="#333" stroke-width="0.7"/>
<line x1="1862.37" y1="655.51" x2="1902.85" y2="646.75" stroke="#333" stroke-width="0.7"/>
<line x1="1863.3" y1="663.68" x2="1904.69" y2="663.15" stroke="#333" stroke-width="0.7"/>
<line x1="1862.58" y1="671.87" x2="1903.3" y2="679.6" stroke="#333" stroke-width="0.7"/>
<line x1="1860.24" y1="679.75" x2="1898.71" y2="695.47" stroke="#333" stroke-width="0.7"/>
<line x1="1856.39" y1="687.01" x2="1891.09" y2="710.17" stroke="#333" stroke-width="0.7"/>
<line x1="1851.16" y1="693.36" x2="1880.72" y2="723.11" stroke="#333" stroke-width="0.7"/>
<line x1="1844.78" y1="698.54" x2="1867.96" y2="733.8" stroke="#333" stroke-width="0.7"/>
<line x1="1837.49" y1="702.35" x2="1853.3" y2="741.78" stroke="#333" stroke-width="0.7"/>
<line x1="1829.59" y1="704.63" x2="1837.29" y2="746.73" stroke="#333" stroke-width="0.7"/>
<line x1="1821.4" y1="705.29" x2="1820.56" y2="748.4" stroke="#333" stroke-width="0.7"/>
<line x1="1813.24" y1="704.31" x2="1803.73" y2="746.86" stroke="#333" stroke-width="0.7"/>
<line x1="1805.43" y1="701.72" x2="1787.34" y2="742.22" stroke="#333" stroke-width="0.7"/>
<line x1="1798.3" y1="697.64" x2="1771.94" y2="734.52" stroke="#333" stroke-width="0.7"/>
<line x1="1792.12" y1="692.21" x2="1758.16" y2="723.84" stroke="#333" stroke-width="0.7"/>
<line x1="1787.15" y1="685.66" x2="1746.69" y2="710.44" stroke="#333" stroke-width="0.7"/>
<line x1="1783.8" y1="671.8" x2="1738.2" y2="688.7" stroke="#333" stroke-width="0.7"/>
<line x1="1784.5" y1="675.7" x2="1739.5" y2="693.3" stroke="#333" stroke-width="0.7"/>
<polygon points="1774,621 1778,617.6 1777.4,621.8" fill="#111"/>
<circle cx="192.5" cy="235.5" r="0.95" fill="#111"/>
<circle cx="303.75" cy="366.25" r="0.95" fill="#111"/>
<circle cx="301.25" cy="374.25" r="0.95" fill="#111"/>
<circle cx="428.25" cy="366.25" r="0.95" fill="#111"/>
<circle cx="48.25" cy="373.75" r="0.95" fill="#111"/>
<circle cx="192.5" cy="446.25" r="0.95" fill="#111"/>
<circle cx="189.25" cy="448.75" r="0.95" fill="#111"/>
<circle cx="367.5" cy="446.25" r="0.95" fill="#111"/>
<circle cx="374.25" cy="448.75" r="0.95" fill="#111"/>
<circle cx="48.25" cy="503" r="0.95" fill="#111"/>
<circle cx="325.75" cy="503" r="0.95" fill="#111"/>
<circle cx="428.75" cy="494.5" r="0.95" fill="#111"/>
<circle cx="430.75" cy="533.75" r="0.95" fill="#111"/>
<circle cx="367" cy="207" r="0.95" fill="#111"/>
<circle cx="607" cy="333.75" r="0.95" fill="#111"/>
<circle cx="738.75" cy="507" r="0.95" fill="#111"/>
<circle cx="731.25" cy="533.75" r="0.95" fill="#111"/>
<circle cx="607" cy="603.25" r="0.95" fill="#111"/>
<circle cx="758" cy="580" r="0.95" fill="#111"/>
<circle cx="821.75" cy="596.25" r="0.95" fill="#111"/>
<circle cx="758" cy="662" r="0.95" fill="#111"/>
<circle cx="832" cy="647" r="0.95" fill="#111"/>
<circle cx="822" cy="358.75" r="0.95" fill="#111"/>
<circle cx="577.5" cy="609.25" r="0.95" fill="#111"/>
<circle cx="84.25" cy="585.5" r="0.95" fill="#111"/>
<circle cx="189.25" cy="578.75" r="0.95" fill="#111"/>
<circle cx="285.75" cy="585.5" r="0.95" fill="#111"/>
<circle cx="374.25" cy="572.5" r="0.95" fill="#111"/>
<circle cx="48.25" cy="666.75" r="0.95" fill="#111"/>
<circle cx="162.5" cy="666.75" r="0.95" fill="#111"/>
<circle cx="165" cy="710.75" r="0.95" fill="#111"/>
<circle cx="406.25" cy="710.75" r="0.95" fill="#111"/>
<circle cx="84.25" cy="743" r="0.95" fill="#111"/>
<circle cx="103.25" cy="749.5" r="0.95" fill="#111"/>
<circle cx="285.75" cy="743" r="0.95" fill="#111"/>
<circle cx="48.25" cy="814.5" r="0.95" fill="#111"/>
<circle cx="158.75" cy="814.5" r="0.95" fill="#111"/>
<circle cx="103.25" cy="879.25" r="0.95" fill="#111"/>
<circle cx="152" cy="888" r="0.95" fill="#111"/>
<circle cx="440" cy="716.25" r="0.95" fill="#111"/>
<circle cx="48.25" cy="1000.5" r="0.95" fill="#111"/>
<circle cx="405" cy="1000.5" r="0.95" fill="#111"/>
<circle cx="152" cy="1145" r="0.95" fill="#111"/>
<circle cx="616.4" cy="692.5" r="0.95" fill="#111"/>
<circle cx="616.4" cy="732.7" r="0.95" fill="#111"/>
<circle cx="581.7" cy="712.3" r="0.95" fill="#111"/>
<circle cx="651.25" cy="712.3" r="0.95" fill="#111"/>
<circle cx="575" cy="705.6" r="0.95" fill="#111"/>
<circle cx="994.7" cy="533.7" r="0.95" fill="#111"/>
<circle cx="970.3" cy="507.2" r="0.95" fill="#111"/>
<circle cx="923" cy="563" r="0.95" fill="#111"/>
<circle cx="962.5" cy="603.9" r="0.95" fill="#111"/>
<circle cx="909" cy="617.5" r="0.95" fill="#111"/>
<circle cx="811.1" cy="628.1" r="0.95" fill="#111"/>
<circle cx="654.5" cy="712" r="0.95" fill="#111"/>
<circle cx="811.5" cy="723.5" r="0.95" fill="#111"/>
<circle cx="1274.25" cy="282" r="0.95" fill="#111"/>
<circle cx="1470.75" cy="282" r="0.95" fill="#111"/>
<circle cx="1309.5" cy="362" r="0.95" fill="#111"/>
<circle cx="1571.25" cy="362" r="0.95" fill="#111"/>
<circle cx="1577.5" cy="293" r="0.95" fill="#111"/>
<circle cx="1117.5" cy="455.5" r="0.95" fill="#111"/>
<circle cx="1577.5" cy="450.75" r="0.95" fill="#111"/>
<circle cx="1151.75" cy="479.25" r="0.95" fill="#111"/>
<circle cx="1151.75" cy="558" r="0.95" fill="#111"/>
<circle cx="1117" cy="518.75" r="0.95" fill="#111"/>
<circle cx="1185" cy="518.75" r="0.95" fill="#111"/>
<circle cx="1431.75" cy="511.25" r="0.95" fill="#111"/>
<circle cx="1470.75" cy="504.5" r="0.95" fill="#111"/>
<circle cx="1555.5" cy="511.25" r="0.95" fill="#111"/>
<circle cx="1431.75" cy="580" r="0.95" fill="#111"/>
<circle cx="1555.5" cy="580" r="0.95" fill="#111"/>
<circle cx="1373.75" cy="546.25" r="0.95" fill="#111"/>
<circle cx="1485" cy="546.25" r="0.95" fill="#111"/>
<circle cx="1491.75" cy="548.25" r="0.95" fill="#111"/>
<circle cx="1347.5" cy="553.25" r="0.95" fill="#111"/>
<circle cx="1323.25" cy="541.25" r="0.95" fill="#111"/>
<circle cx="1323.25" cy="464.25" r="0.95" fill="#111"/>
<circle cx="1307.5" cy="563.75" r="0.95" fill="#111"/>
<circle cx="1302.5" cy="626.75" r="0.95" fill="#111"/>
<circle cx="1477.5" cy="626.75" r="0.95" fill="#111"/>
<circle cx="1275.5" cy="744.5" r="0.95" fill="#111"/>
<circle cx="1347.5" cy="744.5" r="0.95" fill="#111"/>
<circle cx="1117" cy="563.75" r="0.95" fill="#111"/>
<circle cx="1571" cy="361.9" r="0.95" fill="#111"/>
<circle cx="1577.2" cy="402.1" r="0.95" fill="#111"/>
<circle cx="1577.2" cy="451.2" r="0.95" fill="#111"/>
<circle cx="1644.2" cy="451.2" r="0.95" fill="#111"/>
<circle cx="1650.4" cy="421.5" r="0.95" fill="#111"/>
<circle cx="1679.4" cy="402.1" r="0.95" fill="#111"/>
<circle cx="1693" cy="395.4" r="0.95" fill="#111"/>
<circle cx="1679.4" cy="481" r="0.95" fill="#111"/>
<circle cx="1770.7" cy="352.7" r="0.95" fill="#111"/>
<circle cx="1853.8" cy="324.2" r="0.95" fill="#111"/>
<circle cx="1824" cy="292.5" r="0.95" fill="#111"/>
<circle cx="1907.9" cy="377.3" r="0.95" fill="#111"/>
<circle cx="1780.6" cy="396.7" r="0.95" fill="#111"/>
<circle cx="1819" cy="401.1" r="0.95" fill="#111"/>
<circle cx="1816.6" cy="411.5" r="0.95" fill="#111"/>
<circle cx="1644.2" cy="548.4" r="0.95" fill="#111"/>
<circle cx="1650.4" cy="548.4" r="0.95" fill="#111"/>
<circle cx="1737.2" cy="517.4" r="0.95" fill="#111"/>
<circle cx="1760" cy="548.4" r="0.95" fill="#111"/>
<circle cx="1769.4" cy="513.9" r="0.95" fill="#111"/>
<circle cx="1931.9" cy="527.3" r="0.95" fill="#111"/>
<circle cx="1685.6" cy="693.5" r="0.95" fill="#111"/>
<circle cx="1685.6" cy="733.9" r="0.95" fill="#111"/>
<circle cx="1650.4" cy="713.6" r="0.95" fill="#111"/>
<circle cx="1720.6" cy="713.6" r="0.95" fill="#111"/>
<circle cx="1812.9" cy="580.6" r="0.95" fill="#111"/>
<circle cx="1821.5" cy="579.4" r="0.95" fill="#111"/>
</g>
<g class="lab">
<text transform="translate(180,341) scale(1.05,1)" text-anchor="middle">Family Room</text>
<text transform="translate(180,354) scale(1.03,1)" text-anchor="middle">20'3&quot; x 16'11&quot;</text>
<text transform="translate(363,330.5) scale(1.05,1)" text-anchor="middle">Breakfast Nook</text>
<text transform="translate(363,343.5) scale(1.03,1)" text-anchor="middle">10'1&quot; x 19'0&quot;</text>
<text transform="translate(187,514) scale(1.05,1)" text-anchor="middle">Kitchen</text>
<text transform="translate(187,527.4) scale(1.03,1)" text-anchor="middle">22'2&quot; x 10'6&quot;</text>
<text transform="translate(376,514) scale(1.05,1)" text-anchor="middle">Hall</text>
<text transform="translate(376,527.4) scale(1.03,1)" text-anchor="middle">8'1&quot; x 10'0&quot;</text>
<text transform="translate(574.5,460.75) scale(1.05,1)" text-anchor="middle">Living Room</text>
<text transform="translate(574.5,474.25) scale(1.03,1)" text-anchor="middle">23'11&quot; x 21'6&quot;</text>
<text transform="translate(833,495.75) scale(1.05,1)" text-anchor="middle">Bedroom</text>
<text transform="translate(833,509.25) scale(1.03,1)" text-anchor="middle">18'6&quot; x 19'0&quot;</text>
<text transform="translate(693.75,632) scale(1.05,1)" text-anchor="middle">Hall</text>
<text transform="translate(693.75,645.25) scale(1.03,1)" text-anchor="middle">19'6&quot; x 6'8&quot;</text>
<text transform="translate(485,654.25) scale(1.05,1)" text-anchor="middle">Foyer</text>
<text transform="translate(485,667.5) scale(1.03,1)" text-anchor="middle">13'4&quot; x 11'4&quot;</text>
<text transform="translate(812.5,663.25) scale(1.05,1)" text-anchor="middle">Bath</text>
<text transform="translate(812.5,676.5) scale(1.03,1)" text-anchor="middle">3'4&quot; x 7'9&quot;</text>
<text transform="translate(946.6,587.5) scale(1.05,1)" text-anchor="middle">Bath</text>
<text transform="translate(946.6,600.7) scale(1.03,1)" text-anchor="middle">9'7&quot; x 4'8&quot;</text>
<text transform="translate(95.75,664.5) scale(1.05,1)" text-anchor="middle">Hall</text>
<text transform="translate(95.75,677.7) scale(1.03,1)" text-anchor="middle">9'3&quot; x 12'8&quot;</text>
<text transform="translate(285.75,664.5) scale(1.05,1)" text-anchor="middle">Dining Area</text>
<text transform="translate(285.75,677.7) scale(1.03,1)" text-anchor="middle">19'3&quot; x 12'8&quot;</text>
<text transform="translate(103.25,815) scale(1.05,1)" text-anchor="middle">Laundry</text>
<text transform="translate(103.25,828.2) scale(1.03,1)" text-anchor="middle">8'11&quot; x 10'5&quot;</text>
<text transform="translate(616,713.1) scale(1.05,1)" text-anchor="middle">Elevator</text>
<text transform="translate(616,726.4) scale(1.03,1)" text-anchor="middle">5'8&quot; x 3'5&quot;</text>
<text transform="translate(220.75,1010.75) scale(1.05,1)" text-anchor="middle">Garage</text>
<text transform="translate(220.75,1023.9) scale(1.03,1)" text-anchor="middle">28'5&quot; x 20'6&quot;</text>
<text transform="translate(46.75,1194.25) scale(1.05,1)">Floor 1</text>
<text transform="translate(1210.5,378.75) scale(1.05,1)" text-anchor="middle">Primary Bath</text>
<text transform="translate(1210.5,393) scale(1.03,1)" text-anchor="middle">15'9&quot; x 16'10&quot;</text>
<text transform="translate(1443.75,390) scale(1.05,1)" text-anchor="middle">Primary Bedroom</text>
<text transform="translate(1443.75,404.25) scale(1.03,1)" text-anchor="middle">20'11&quot; x 17'10&quot;</text>
<text transform="translate(1151.25,518.25) scale(1.05,1)" text-anchor="middle">Bath</text>
<text transform="translate(1151.25,533) scale(1.03,1)" text-anchor="middle">5'7&quot; x 6'5&quot;</text>
<text transform="translate(1328,500.75) scale(1.05,1)" text-anchor="middle">Hall</text>
<text transform="translate(1328,515.5) scale(1.03,1)" text-anchor="middle">6'5&quot; x 6'3&quot;</text>
<text transform="translate(1430,545.5) scale(1.05,1)" text-anchor="middle">Hall</text>
<text transform="translate(1430,560) scale(1.03,1)" text-anchor="middle">9'0&quot; x 5'8&quot;</text>
<text transform="translate(1568,547.7) scale(1.05,1)" text-anchor="middle">Hall</text>
<text transform="translate(1568,562.2) scale(1.03,1)" text-anchor="middle">12'3&quot; x 5'8&quot;</text>
<text transform="translate(1220.75,607) scale(1.05,1)" text-anchor="middle">W.I.C.</text>
<text transform="translate(1220.75,621.75) scale(1.03,1)" text-anchor="middle">15'2&quot; x 19'3&quot;</text>
<text transform="translate(1375.75,640) scale(1.05,1)" text-anchor="middle">W.I.C.</text>
<text transform="translate(1375.75,654.25) scale(1.03,1)" text-anchor="middle">14'0&quot; x 15'5&quot;</text>
<text transform="translate(1563.75,659.4) scale(1.05,1)" text-anchor="middle">Open To Below</text>
<text transform="translate(1116.75,716.25) scale(1.05,1)">Floor 2</text>
<text transform="translate(1686.3,301.2) scale(1.05,1)" text-anchor="middle">Bedroom</text>
<text transform="translate(1686.3,315.5) scale(1.03,1)" text-anchor="middle">19'7&quot; x 18'7&quot;</text>
<text transform="translate(1807.9,361.9) scale(1.05,1)" text-anchor="middle">Bath</text>
<text transform="translate(1807.9,376.3) scale(1.03,1)" text-anchor="middle">8'4&quot; x 5'7&quot;</text>
<text transform="translate(1610.7,452.5) scale(1.05,1)" text-anchor="middle">Bath</text>
<text transform="translate(1610.7,466.9) scale(1.03,1)" text-anchor="middle">5'5&quot; x 8'3&quot;</text>
<text transform="translate(1681.4,440) scale(1.05,1)" text-anchor="middle">W.I.C.</text>
<text transform="translate(1681.4,454.4) scale(1.03,1)" text-anchor="middle">6'3&quot; x 6'5&quot;</text>
<text transform="translate(1739.2,453.7) scale(1.05,1)" text-anchor="middle">Hall</text>
<text transform="translate(1739.2,468.1) scale(1.03,1)" text-anchor="middle">5'1&quot; x 9'5&quot;</text>
<text transform="translate(1875.4,469.8) scale(1.05,1)" text-anchor="middle">Bedroom</text>
<text transform="translate(1875.4,484.2) scale(1.03,1)" text-anchor="middle">15'6&quot; x 13'2&quot;</text>
<text transform="translate(1704.2,595.8) scale(1.05,1)" text-anchor="middle">Hall</text>
<text transform="translate(1704.2,610.4) scale(1.03,1)" text-anchor="middle">8'10&quot; x 13'9&quot;</text>
<text transform="translate(1833.4,603.7) scale(1.05,1)" text-anchor="middle">Stairwell</text>
<text transform="translate(1833.4,618.1) scale(1.03,1)" text-anchor="middle">1'10&quot; x 0'0&quot;</text>
<text transform="translate(1824.8,669.4) scale(1.05,1)" text-anchor="middle">Open To Below</text>
<text transform="translate(1685.6,714.1) scale(1.05,1)" text-anchor="middle">Elevator</text>
<text transform="translate(1685.6,728.2) scale(1.03,1)" text-anchor="middle">5'8&quot; x 3'5&quot;</text>
</g>
<g class="bt">
<text y="1371" font-size="24" font-weight="bold"><tspan x="917.5" textLength="85.08" lengthAdjust="spacingAndGlyphs">TOTAL:</tspan> <tspan x="1008.75" textLength="54.1" lengthAdjust="spacingAndGlyphs">4395</tspan> <tspan x="1071.25" textLength="32.48" lengthAdjust="spacingAndGlyphs">sq.</tspan> <tspan x="1111.9" textLength="18.09" lengthAdjust="spacingAndGlyphs">ft</tspan></text>
<text y="1400.5" font-size="24"><tspan x="789.06" textLength="77.5" lengthAdjust="spacingAndGlyphs">FLOOR</tspan> <tspan x="877.96" textLength="15.86" lengthAdjust="spacingAndGlyphs">1:</tspan> <tspan x="898.97" textLength="55.14" lengthAdjust="spacingAndGlyphs">2422</tspan> <tspan x="962.5" textLength="32.97" lengthAdjust="spacingAndGlyphs">sq.</tspan> <tspan x="1002.5" textLength="21.82" lengthAdjust="spacingAndGlyphs">ft,</tspan> <tspan x="1031.58" textLength="76.23" lengthAdjust="spacingAndGlyphs">FLOOR</tspan> <tspan x="1115.17" textLength="21.63" lengthAdjust="spacingAndGlyphs">2:</tspan> <tspan x="1142.77" textLength="52.58" lengthAdjust="spacingAndGlyphs">1973</tspan> <tspan x="1203.75" textLength="32.97" lengthAdjust="spacingAndGlyphs">sq.</tspan> <tspan x="1243.75" textLength="15.12" lengthAdjust="spacingAndGlyphs">ft</tspan></text>
<text y="1429.7" font-size="24"><tspan x="530.33" textLength="119.97" lengthAdjust="spacingAndGlyphs">EXCLUDED</tspan> <tspan x="658.75" textLength="79" lengthAdjust="spacingAndGlyphs">AREAS:</tspan> <tspan x="744.06" textLength="102.5" lengthAdjust="spacingAndGlyphs">GARAGE:</tspan> <tspan x="852.5" textLength="40.35" lengthAdjust="spacingAndGlyphs">552</tspan> <tspan x="901.25" textLength="31.65" lengthAdjust="spacingAndGlyphs">sq.</tspan> <tspan x="940.75" textLength="22.36" lengthAdjust="spacingAndGlyphs">ft,</tspan> <tspan x="969.05" textLength="123.78" lengthAdjust="spacingAndGlyphs">ELEVATOR:</tspan> <tspan x="1098.75" textLength="24.06" lengthAdjust="spacingAndGlyphs">41</tspan> <tspan x="1132.5" textLength="32.97" lengthAdjust="spacingAndGlyphs">sq.</tspan> <tspan x="1171.75" textLength="22.64" lengthAdjust="spacingAndGlyphs">ft,</tspan> <tspan x="1201.04" textLength="65.24" lengthAdjust="spacingAndGlyphs">OPEN</tspan> <tspan x="1272.5" textLength="31.9" lengthAdjust="spacingAndGlyphs">TO</tspan> <tspan x="1312.79" textLength="88.8" lengthAdjust="spacingAndGlyphs">BELOW:</tspan> <tspan x="1409.03" textLength="38.81" lengthAdjust="spacingAndGlyphs">162</tspan> <tspan x="1456.25" textLength="32.97" lengthAdjust="spacingAndGlyphs">sq.</tspan> <tspan x="1496.25" textLength="21.82" lengthAdjust="spacingAndGlyphs">ft,</tspan></text>
<text y="1458.6" font-size="24"><tspan x="806.57" textLength="131.24" lengthAdjust="spacingAndGlyphs">STAIRWELL:</tspan> <tspan x="943.96" textLength="27.65" lengthAdjust="spacingAndGlyphs">99</tspan> <tspan x="980.75" textLength="32.18" lengthAdjust="spacingAndGlyphs">sq.</tspan> <tspan x="1021.25" textLength="19.09" lengthAdjust="spacingAndGlyphs">ft,</tspan> <tspan x="1048.75" textLength="81.56" lengthAdjust="spacingAndGlyphs">WALLS:</tspan> <tspan x="1136.47" textLength="41.39" lengthAdjust="spacingAndGlyphs">280</tspan> <tspan x="1186.25" textLength="32.97" lengthAdjust="spacingAndGlyphs">sq.</tspan> <tspan x="1226.25" textLength="14.64" lengthAdjust="spacingAndGlyphs">ft</tspan></text>
<text x="1023.9" y="1497.7" text-anchor="middle" font-size="12.5" textLength="550" lengthAdjust="spacingAndGlyphs">Floor Plan Created By Cubicasa App. Measurements Deemed Highly Reliable But Not Guaranteed.</text>
</g>
<g class="logo">
<rect x="46" y="1372.3" width="66.2" height="39.8" fill="#000"/>
<rect x="46" y="1450" width="66.2" height="39.7" fill="#000"/>
<path d="M72.5,1431.6 V1421.2 L79.4,1414.7 L86.5,1421.2 V1424" fill="none" stroke="#1a1a1a" stroke-width="2.7" stroke-linejoin="miter"/>
<rect x="76.2" y="1420.8" width="11.65" height="10.8" fill="#1a1a1a"/>
<circle cx="81.8" cy="1426.4" r="3.9" fill="#fff"/>
<circle cx="81.8" cy="1426.4" r="1.45" fill="#1a1a1a"/>
<text x="47" y="1445.2" font-size="13.4" fill="#999" textLength="41" lengthAdjust="spacingAndGlyphs" style="font-weight:normal">SWIFT</text>
<text x="88.6" y="1445.2" font-size="13.4" fill="#1a1a1a" font-weight="bold" textLength="22.8" lengthAdjust="spacingAndGlyphs">PIX</text>
<line x1="48" y1="1448" x2="111" y2="1448" stroke="#ccc" stroke-width="1" stroke-dasharray="1.2 1.4"/>
</g>
</svg>
</body></html>
